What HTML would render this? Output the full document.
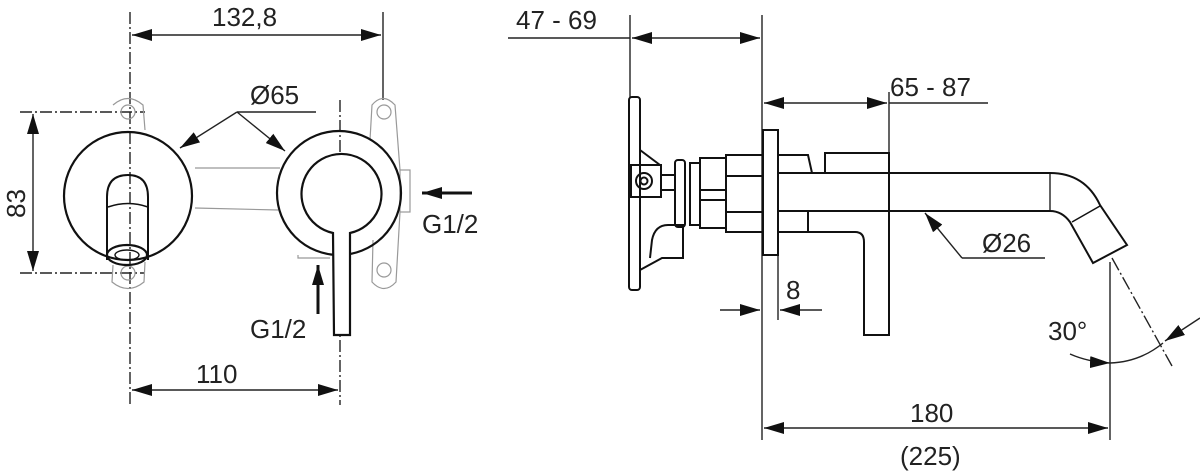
<!DOCTYPE html>
<html><head><style>
html,body{margin:0;padding:0;background:#fff;}
svg{display:block;}
text{font-family:"Liberation Sans",sans-serif;fill:#222;font-size:26px;}
</style></head><body>
<svg width="1200" height="472" viewBox="0 0 1200 472" xmlns="http://www.w3.org/2000/svg">
<defs>
<marker id="b" viewBox="0 0 20 12" refX="20" refY="6" markerWidth="20" markerHeight="12" markerUnits="userSpaceOnUse" orient="auto-start-reverse"><path d="M0,0 L20,6 L0,12 Z" fill="#111"/></marker>
</defs>
<g fill="none" stroke="#222" stroke-width="1.4">
<!-- LEFT VIEW -->
<line x1="130" y1="12" x2="130" y2="405" stroke-dasharray="12,3,2,3"/>
<line x1="383" y1="12" x2="383" y2="100"/>
<line x1="340" y1="100" x2="340" y2="405" stroke-dasharray="12,3,2,3"/>
<line x1="132" y1="35" x2="381" y2="35" marker-start="url(#b)" marker-end="url(#b)"/>
<line x1="20" y1="112" x2="145" y2="112" stroke-dasharray="12,3,2,3"/>
<line x1="20" y1="273" x2="145" y2="273" stroke-dasharray="12,3,2,3"/>
<line x1="33" y1="114" x2="33" y2="271" marker-start="url(#b)" marker-end="url(#b)"/>
<line x1="132" y1="390" x2="338" y2="390" marker-start="url(#b)" marker-end="url(#b)"/>
<g stroke="#999" stroke-width="1.2">
<path d="M113,105 Q128,92 143,105 L145,130"/>
<circle cx="128" cy="112" r="7"/>
<circle cx="128" cy="273" r="7"/>
<path d="M113,265 L112,282 Q128,295 144,282 L145,262"/>
<line x1="195" y1="168" x2="280" y2="168"/>
<line x1="195" y1="208" x2="278" y2="210"/>
<path d="M370,140 L372,105 Q383,92 395,105 L400,170"/>
<circle cx="384" cy="112" r="7"/>
<circle cx="384" cy="270" r="7"/>
<rect x="400" y="170" width="10" height="42"/>
<path d="M373,240 L372,282 Q384,295 396,282 L400,212"/>
<path d="M298,255 L298,258 L330,258"/>
</g>
<circle cx="128" cy="196" r="64" stroke="#111" stroke-width="2.2"/>
<path d="M107,260 L107,197 Q107,175 128,175 Q148,175 148,197 L148,260" stroke="#111" stroke-width="2"/>
<path d="M108,207 Q128,200 148,207" stroke="#111" stroke-width="1.6"/>
<ellipse cx="127" cy="255" rx="20" ry="10" stroke="#111" stroke-width="2.2"/>
<ellipse cx="127" cy="255" rx="12" ry="5" stroke="#111" stroke-width="1.4"/>
<circle cx="339" cy="193" r="62" stroke="#111" stroke-width="2.2"/>
<path d="M333,233 A40,40 0 1 1 350,233 L350,335 L334,335 Z" fill="#fff" stroke="#111" stroke-width="2.2"/>
<line x1="237" y1="112" x2="316" y2="112"/>
<line x1="237" y1="112" x2="180" y2="148" marker-end="url(#b)"/>
<line x1="237" y1="112" x2="285" y2="151" marker-end="url(#b)"/>
<line x1="472" y1="193" x2="422" y2="193" stroke="#111" stroke-width="3" marker-end="url(#b)"/>
<line x1="318" y1="314" x2="318" y2="265" stroke="#111" stroke-width="3" marker-end="url(#b)"/>

<!-- RIGHT VIEW -->
<line x1="630" y1="15" x2="630" y2="98"/>
<line x1="762" y1="15" x2="762" y2="440"/>
<line x1="508" y1="38" x2="630" y2="38"/>
<line x1="632" y1="38" x2="760" y2="38" marker-start="url(#b)" marker-end="url(#b)"/>
<line x1="889" y1="92" x2="889" y2="155"/>
<line x1="764" y1="103" x2="887" y2="103" marker-start="url(#b)" marker-end="url(#b)"/>
<line x1="889" y1="103" x2="988" y2="103"/>
<line x1="778" y1="255" x2="778" y2="320"/>
<line x1="720" y1="310" x2="760" y2="310" marker-end="url(#b)"/>
<line x1="822" y1="310" x2="780" y2="310" marker-end="url(#b)"/>
<line x1="1110" y1="262" x2="1110" y2="440"/>
<line x1="764" y1="428" x2="1108" y2="428" marker-start="url(#b)" marker-end="url(#b)"/>
<line x1="1112" y1="258" x2="1172" y2="366" stroke-dasharray="14,3,2,3"/>
<path d="M1070,354 Q1088,362 1110,363" marker-end="url(#b)"/>
<path d="M1110,363 Q1140,362 1163,343"/>
<line x1="1200" y1="318" x2="1165" y2="341" marker-end="url(#b)"/>
<g stroke="#111" stroke-width="2">
<rect x="629" y="97" width="11" height="193" rx="3"/>
<path d="M640,150 L660,165"/>
<rect x="631" y="165" width="30" height="32"/>
<circle cx="644" cy="181" r="8"/>
<circle cx="644" cy="181" r="3.5"/>
<path d="M661,175 L675,175 M661,190 L675,190"/>
<path d="M640,270 L662,258 L683,258 L683,225 L668,225 Q655,225 652,240 L650,258"/>
<rect x="675" y="160" width="10" height="67" rx="3"/>
<rect x="690" y="163" width="10" height="62"/>
<rect x="700" y="158" width="26" height="70"/>
<line x1="700" y1="190" x2="726" y2="190"/>
<line x1="700" y1="200" x2="726" y2="200"/>
<rect x="726" y="155" width="37" height="77"/>
<line x1="726" y1="176" x2="763" y2="176"/>
<line x1="726" y1="212" x2="763" y2="212"/>
<rect x="763" y="130" width="15" height="125"/>
<path d="M778,155 L808,155 L812,173 M825,173 L825,153 L889,153 L889,173"/>
<path d="M778,173 L1050,173 Q1085,173 1100,205 L1127,245 L1093,263 L1070,222 Q1062,211 1050,211 L778,211"/>
<line x1="1050" y1="173" x2="1050" y2="211" stroke-width="1.3"/>
<line x1="1072" y1="222" x2="1100" y2="206" stroke-width="1.5"/>
<path d="M778,232 L855,232 Q864,232 864,242 L864,335 L889,335 L889,173"/>
<path d="M808,211 L808,232"/>
</g>
<line x1="962" y1="258" x2="925" y2="213" marker-end="url(#b)"/>
<line x1="962" y1="258" x2="1045" y2="258"/>
</g>
<text x="212" y="26">132,8</text>
<text x="250" y="104">Ø65</text>
<text transform="translate(25,218) rotate(-90)">83</text>
<text x="422" y="233">G1/2</text>
<text x="250" y="338">G1/2</text>
<text x="196" y="383">110</text>
<text x="516" y="29">47 - 69</text>
<text x="890" y="96">65 - 87</text>
<text x="982" y="252">Ø26</text>
<text x="786" y="299">8</text>
<text x="1048" y="340">30°</text>
<text x="910" y="422">180</text>
<text x="900" y="465">(225)</text>
</svg>
</body></html>
